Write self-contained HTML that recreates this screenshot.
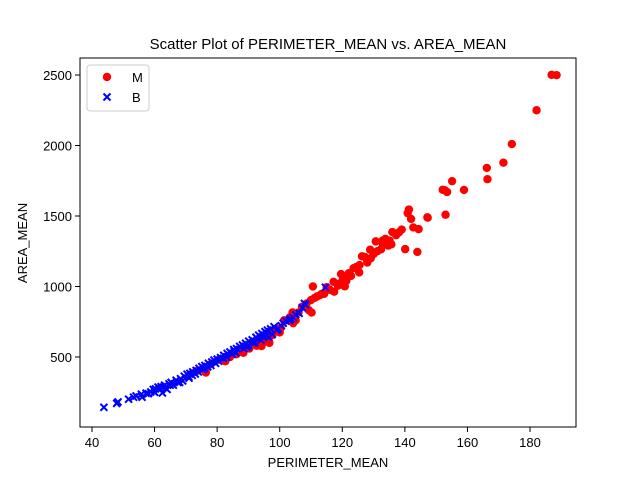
<!DOCTYPE html>
<html><head><meta charset="utf-8"><style>
body{margin:0;background:#fff;}
svg{display:block;font-family:"Liberation Sans","DejaVu Sans",sans-serif;}
</style></head><body>
<svg id="chart" width="640" height="480">
<rect x="0" y="0" width="640" height="480" fill="#fff"/>
<text x="328" y="49" font-size="15" text-anchor="middle">Scatter Plot of PERIMETER_MEAN vs. AREA_MEAN</text>
<g id="marks"></g>
<rect x="80" y="58" width="496" height="369" fill="none" stroke="#000" stroke-width="1"/>
<g id="xticks"></g><g id="yticks"></g>
<text x="328" y="467" font-size="13" text-anchor="middle">PERIMETER_MEAN</text>
<text x="27" y="243" font-size="13" text-anchor="middle" transform="rotate(-90 27 243)">AREA_MEAN</text>
<g>
<rect x="87" y="65" width="62" height="46" rx="3" fill="#fff" stroke="#ccc"/>
<g><circle cx="107" cy="77" r="4.2" fill="red"/><text x="132" y="82" font-size="13">M</text></g>
<g><path d="M103.5 93.5L110.5 100.5M110.5 93.5L103.5 100.5" stroke="blue" stroke-width="2"/><text x="132" y="102" font-size="13">B</text></g>
</g>
</svg>
<script>
const xTicks=[40,60,80,100,120,140,160,180];
const yTicks=[500,1000,1500,2000,2500];
const mPerimeter=[186.9,188.5,182.1,174.2,171.5,166.2,166.4,158.9,155.1,153.5,152.8,152.1,153.0,147.2,147.3,144.4,144.0,141.3,142.0,142.7,140.9,139.0,140.1,138.1,137.2,136.0,135.1,134.7,133.8,132.4,131.2,130.0,129.1,128.0,127.2,125.4,124.4,123.6,122.8,121.3,120.2,119.0,118.6,117.4,116.0,114.2,113.0,112.0,111.2,110.0,109.3,108.6,107.1,106.0,105.1,104.1,103.2,102.4,101.4,100.3,98.9,97.6,96.4,95.5,94.5,92.5,91.4,90.3,88.4,87.1,86.2,84.1,82.6,80.6,78.0,76.4,73.3,130.7,133.0,128.9,125.5,122.1,120.8,117.2,115.0,110.2,110.6,113.4,132.9,135.7,127.9,119.6,121.4,126.3,104.3,100.0,97.7,96.7,94.2,92.7,89.8,88.0,85.9,81.1,83.2];
const mArea=[2501,2499,2250,2010,1878,1841,1761,1685,1747,1670,1682,1686,1509,1491,1488,1407,1245,1546,1479,1419,1520,1404,1265,1384,1364,1386,1326,1290,1338,1264,1250,1230,1200,1170,1210,1100,1138,1130,1075,1040,1052,1020,1006,963,977,948,940,930,920,904,832,880,856,815,760,816,781,760,760,705,700,670,645,640,600,620,600,560,530,551,520,500,470,480,450,390,400,1320,1300,1261,1152,1094,1001,1033,995,815,1000,947,1326,1299,1191,1088,1068,1214,740,674,656,600,578,580,580,557,520,481,506];
const bPerimeter=[43.8,47.9,48.3,51.7,53.3,54.1,55.8,57.3,58.8,59.6,60.3,61.1,62.1,63.2,64.6,65.3,66.9,68.3,69.5,70.4,71.3,72.2,73.3,74.2,75.1,76.1,77.2,78.3,79.0,80.0,81.1,82.1,83.2,84.1,85.3,86.2,87.2,88.1,89.1,90.1,91.2,92.4,93.3,94.3,95.3,96.1,97.1,97.6,98.2,99.1,101.1,102.0,103.1,104.3,105.1,106.2,107.2,107.9,108.3,114.6,60,62.5,66,69,72,75.5,78,82,86,90,94,99.5,103.5,56,63.5,67.5,70.9,74,77,80.5,84.8,88.5,92,95.8,100.5,64,71,76,83,89.5,96.5,58,61.5,65,68,73,79.5,85.5,91.5,94.8];
const bArea=[143,171,181,201,215,224,236,243,252,270,274,287,290,300,310,320,335,346,364,378,384,395,405,420,432,440,455,465,478,485,496,512,525,536,553,560,575,585,597,612,622,640,655,666,680,690,700,660,715,690,740,755,760,780,800,810,850,880,870,994,250,245,300,330,370,410,440,490,530,580,620,700,770,215,280,320,360,394,430,470,520,560,602,650,722,270,350,420,500,570,640,240,280,300,320,380,455,540,600,640];
const X=v=>92+(v-40)*438/140;
const Y=v=>357-(v-500)*282/2000;
const NS="http://www.w3.org/2000/svg";
const marks=document.getElementById('marks');
mPerimeter.forEach((p,i)=>{
  const c=document.createElementNS(NS,'circle');
  c.setAttribute('cx',X(p));c.setAttribute('cy',Y(mArea[i]));c.setAttribute('r',4.2);c.setAttribute('fill','red');
  
  
  marks.appendChild(c);
});
bPerimeter.forEach((p,i)=>{
  const x=X(p),y=Y(bArea[i]);
  const e=document.createElementNS(NS,'path');
  e.setAttribute('d',`M${x-3.5} ${y-3.5}L${x+3.5} ${y+3.5}M${x+3.5} ${y-3.5}L${x-3.5} ${y+3.5}`);
  e.setAttribute('stroke','blue');e.setAttribute('stroke-width','2');
  
  
  marks.appendChild(e);
});
const xt=document.getElementById('xticks');
xTicks.forEach(t=>{
  const g=document.createElementNS(NS,'g');
  
  
  g.innerHTML=`<line x1="${X(t)}" x2="${X(t)}" y1="427" y2="432" stroke="#000"/><text x="${X(t)}" y="447" font-size="13" text-anchor="middle">${t}</text>`;
  xt.appendChild(g);
});
const yt=document.getElementById('yticks');
yTicks.forEach(t=>{
  const g=document.createElementNS(NS,'g');
  
  
  g.innerHTML=`<line x1="75" x2="80" y1="${Y(t)}" y2="${Y(t)}" stroke="#000"/><text x="72" y="${Y(t)+5}" font-size="13" text-anchor="end">${t}</text>`;
  yt.appendChild(g);
});
</script>
</body></html>
